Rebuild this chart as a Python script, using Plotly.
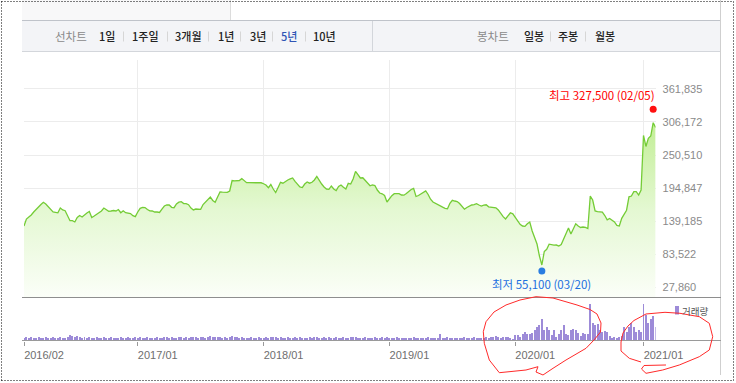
import plotly.graph_objects as go
import pandas as pd

W, H = 736, 383

# ---------------- data ----------------
week_end = pd.date_range("2016-02-12", periods=262, freq="7D")

close = [
    131000, 142800, 146200, 149500, 154600, 159600, 163000, 167200, 170900, 168100,
    163000, 158000, 154600, 154100, 153300, 161300, 158000, 156800, 147900, 140000,
    140000, 137800, 145300, 148700, 146200, 150400, 152900, 155400, 145300, 147900,
    151200, 152900, 156300, 161300, 158800, 155800, 156300, 157100, 156300, 158800,
    153400, 156600, 153400, 152900, 152100, 148400, 146900, 154600, 160800, 162500,
    162000, 158800, 156600, 156300, 154600, 154600, 153800, 159600, 164700, 166400,
    166400, 162500, 161800, 168100, 171100, 171900, 168900, 168600, 166900, 161300,
    158000, 159600, 159300, 159100, 167200, 171400, 174800, 179900, 174000, 170900,
    179900, 188300, 187900, 187800, 187600, 190000, 207600, 207100, 206800, 207600,
    211000, 206800, 203900, 203900, 203900, 204100, 204600, 204900, 203800, 202200,
    200100, 195500, 200900, 193300, 187400, 195800, 204600, 203100, 206300, 208500,
    210200, 211900, 206000, 200600, 196700, 195800, 201700, 205100, 203100, 204600,
    208500, 214400, 206800, 201700, 196700, 193300, 192800, 198400, 193300, 190800,
    197500, 200100, 196200, 193300, 202900, 201700, 210200, 223000, 217700, 211900,
    212200, 207600, 203400, 198700, 200100, 199200, 191600, 186600, 185200, 182400,
    171400, 177300, 182000, 185400, 185700, 185400, 183200, 182900, 185700, 189600,
    192500, 194500, 180700, 182400, 184900, 186600, 190000, 184100, 176100, 171400,
    168900, 166700, 164700, 162700, 160800, 160000, 169200, 174300, 173100, 172300,
    168900, 163000, 159300, 162200, 164700, 166400, 167200, 168700, 166400, 164700,
    166000, 166700, 163400, 162500, 162000, 161700, 158000, 152100, 146700, 142800,
    148700, 153300, 151600, 145300, 139100, 133900, 131000, 130500, 134900, 137800,
    122600, 110800, 100700, 80500, 65400, 88100, 91800, 100400, 99000, 98700,
    99000, 97300, 99900, 109100, 119200, 127700, 117600, 126000, 134700, 131000,
    128500, 129300, 128800, 126800, 181500, 174800, 156300, 155400, 154900, 154300,
    148700, 141500, 143700, 141100, 137800, 131900, 131000, 144000, 152100, 157600,
    180200, 181500, 188800, 188800, 183200, 191600, 283400, 264900, 278700, 282500,
    304900, 296800,
]

# weekly volume, thousand shares
volume = [
    1000, 1200, 800, 1200, 1000, 800, 1200, 1000, 800, 1200,
    800, 1000, 1200, 800, 1000, 1200, 1000, 800, 1200, 2200,
    1600, 1400, 1600, 1200, 1000, 1200, 800, 1200, 1000, 800,
    1200, 1000, 800, 1400, 1000, 800, 1200, 1000, 800, 1000,
    1200, 800, 1000, 1200, 800, 1000, 1200, 1000, 1200, 800,
    1000, 1200, 800, 800, 1000, 1200, 800, 1000, 1200, 1400,
    1000, 1200, 800, 1000, 1200, 1400, 1000, 1200, 800, 1200,
    1400, 1200, 1000, 1200, 1400, 1000, 1200, 1600, 1200, 1400,
    1200, 1400, 1000, 1200, 1000, 1200, 1600, 1400, 1200, 1000,
    1200, 1000, 800, 1000, 1200, 800, 1000, 1200, 800, 1000,
    1200, 1000, 1200, 1400, 1200, 1000, 1200, 800, 1000, 1200,
    1000, 800, 1200, 1000, 1200, 800, 1000, 800, 1200, 1000,
    1200, 1400, 1000, 800, 1200, 1000, 1200, 800, 1000, 1200,
    1000, 800, 1200, 1000, 800, 1200, 1400, 1200, 1000, 800,
    1000, 1200, 800, 1000, 800, 1200, 1000, 800, 1200, 1000,
    1200, 1000, 800, 1000, 1200, 800, 1000, 800, 1000, 800,
    1000, 1200, 800, 1000, 800, 1000, 800, 1200, 1000, 800,
    1000, 800, 2400, 1000, 800, 1200, 1000, 800, 1000, 800,
    1000, 800, 1200, 1000, 800, 1000, 1200, 800, 1000, 800,
    1000, 1200, 1000, 1400, 1200, 1600, 1400, 1080, 1320, 1320,
    1320, 1080, 680, 2000, 2000, 1320, 2680, 3320, 2680, 2680,
    2920, 4000, 5320, 6000, 8680, 4000, 5320, 4000, 2000, 4000,
    1320, 2680, 4000, 6000, 2680, 2000, 4000, 4680, 4000, 2920,
    1600, 2920, 2680, 2400, 14400, 6800, 6000, 6400, 4280, 3320,
    3600, 3200, 1600, 1080, 1320, 1080, 1320, 1600, 5320, 3320,
    5320, 6920, 5320, 3320, 4000, 3320, 14400, 10000, 6800, 8400,
    9600, 5200,
]

tick_dates = ["2016-02-12", "2017-01-06", "2018-01-05", "2019-01-04", "2020-01-03", "2021-01-08"]
tick_labels = ["2016/02", "2017/01", "2018/01", "2019/01", "2020/01", "2021/01"]
price_ticks = [27860, 83522, 139185, 194847, 250510, 306172, 361835]

high_date, high_val, high_label = "2021-02-05", 327500, "최고 327,500 (02/05)"
low_date, low_val, low_label = "2020-03-20", 55100, "최저 55,100 (03/20)"

period_items = ["1일", "1주일", "3개월", "1년", "3년", "5년", "10년"]
candle_items = ["일봉", "주봉", "월봉"]
volume_label = "거래량"

# ---------------- geometry helpers (pixels -> paper) ----------------
def px(x):
    return x / W

def py(y):
    return 1 - y / H

# price axis scale: 27,860 at y=287.3, 33.07 px per tick step
PER_PX = (price_ticks[1] - price_ticks[0]) / 33.07
Y_BOT_PX, Y_TOP_PX = 297, 60
y_range = [price_ticks[0] - (Y_BOT_PX - 287.3) * PER_PX,
           price_ticks[0] + (287.3 - Y_TOP_PX) * PER_PX]

X_L, X_R = 24, 655.6
LINE_GREEN = "#74cc36"
BAR_PURPLE = "#9d8bd8"
KFONT = "Noto Sans CJK KR"
NFONT = "Liberation Sans, Arial"

fig = go.Figure()

fig.add_trace(go.Scatter(
    x=week_end, y=close, mode="lines",
    line=dict(color=LINE_GREEN, width=1.3),
    fill="tozeroy",
    fillgradient=dict(type="vertical",
                      colorscale=[[0, "#fbfef8"], [0.5, "#e4f8d2"], [1, "#c2ee96"]],
                      start=y_range[0], stop=max(close)),
    xaxis="x", yaxis="y", hoverinfo="skip", showlegend=False,
))

fig.add_trace(go.Scatter(
    x=[high_date], y=[high_val], mode="markers",
    marker=dict(color="#ff1010", size=7), xaxis="x", yaxis="y",
    hoverinfo="skip", showlegend=False, cliponaxis=False,
))
fig.add_trace(go.Scatter(
    x=[low_date], y=[low_val], mode="markers",
    marker=dict(color="#2a7de1", size=7), xaxis="x", yaxis="y",
    hoverinfo="skip", showlegend=False, cliponaxis=False,
))

fig.add_trace(go.Bar(
    x=week_end, y=volume, width=2.9 * 86400000,
    marker=dict(color=BAR_PURPLE, line=dict(width=0)),
    xaxis="x2", yaxis="y2", hoverinfo="skip", showlegend=False,
))

shapes = []

def hline(y, x0, x1, color, width=1, dash="solid"):
    shapes.append(dict(type="line", xref="paper", yref="paper",
                       x0=px(x0), x1=px(x1), y0=py(y), y1=py(y),
                       line=dict(color=color, width=width, dash=dash), layer="above"))

def vline(x, y0, y1, color, width=1, dash="solid"):
    shapes.append(dict(type="line", xref="paper", yref="paper",
                       x0=px(x), x1=px(x), y0=py(y0), y1=py(y1),
                       line=dict(color=color, width=width, dash=dash), layer="above"))

def rect(x0, y0, x1, y1, fill, layer="below"):
    shapes.append(dict(type="rect", xref="paper", yref="paper",
                       x0=px(x0), x1=px(x1), y0=py(y0), y1=py(y1),
                       fillcolor=fill, line=dict(width=0), layer=layer))

def scribble(points):
    d = "M " + " L ".join(f"{px(x):.5f},{py(y):.5f}" for x, y in points)
    shapes.append(dict(type="path", xref="paper", yref="paper", path=d,
                       line=dict(color="#ff2a2a", width=1), layer="above"))

# top tab + toolbar
rect(22, 0, 230, 20.5, "#f8f8f9")
vline(230.5, 0, 20.5, "#dcdcdc")
rect(22, 20.5, 721, 51.5, "#f3f4f7")
hline(20.5, 22, 721, "#bfc3ca")
hline(51.5, 22, 721, "#d3d6db")
vline(372.5, 21, 51, "#d3d6db")
for sx in [123.5, 167.5, 208.5, 240.5, 272.5, 305.5, 550.5, 585.5]:
    vline(sx, 31.5, 41.5, "#d6d6d6")

# panel lines
vline(720.5, 0, 375, "#cfcfcf")
hline(297.5, 22, 721, "#8e8e8e")
hline(340.5, 22, 721, "#9a9a9a")

# volume legend swatch
rect(675, 306, 679, 314.5, BAR_PURPLE, layer="above")

# outer dotted frame
hline(1.5, 1.5, 733.5, "#000", dash="1px,2px")
hline(380.5, 1.5, 733.5, "#000", dash="1px,2px")
vline(1.5, 1.5, 380.5, "#000", dash="1px,2px")
vline(733.5, 1.5, 380.5, "#000", dash="1px,2px")

# hand-drawn red marks
scribble([(483.3, 331.7), (486, 321.7), (494, 312), (506, 305), (520, 300), (536, 296.7),
          (553, 298), (577, 305), (590, 309.5), (597, 314), (601, 323), (600.5, 332),
          (594, 340), (586, 348.3), (566, 360), (553, 368.3), (543, 375), (536, 372),
          (538, 366.7), (526, 370), (499.3, 372.7), (489.3, 360), (484.3, 343.3), (483.3, 331.7)])
scribble([(641, 362), (629.3, 358.3), (621, 351), (621, 342), (623, 333), (628, 326),
          (634, 320.5), (646, 314), (665, 312.3), (680, 313.3), (699.3, 316.7), (709.3, 323.3),
          (712.7, 336.7), (709.3, 350), (699.3, 356.7), (679.3, 365), (662.7, 370), (646, 373.3),
          (641.5, 369), (644, 365.5), (666, 365)])

annotations = []

def label(text, x, y, color, size=11.5, family=KFONT, anchor="center", weight="normal"):
    annotations.append(dict(text=text, x=px(x), y=py(y), xref="paper", yref="paper",
                            xanchor=anchor, yanchor="middle", showarrow=False,
                            font=dict(family=family, size=size, color=color, weight=weight)))

label("선차트", 70.9, 36.5, "#8a8a8a")
period_x = [107.3, 145.5, 188.2, 225.6, 257.5, 288.9, 324.1]
for t, x in zip(period_items, period_x):
    label(t, x, 36.5, "#2f55b5" if t == "5년" else "#222222", size=11, weight=500)
label("봉차트", 493.3, 36.5, "#8a8a8a")
for t, x in zip(candle_items, [534, 568.2, 605.1]):
    label(t, x, 36.5, "#222222", size=11, weight=500)
label(volume_label, 679.5, 310.5, "#555555", size=9.5, anchor="left")

annotations.append(dict(text=high_label, x=high_date, y=high_val, xref="x", yref="y",
                        xanchor="right", yanchor="middle", xshift=4, yshift=14,
                        showarrow=False, font=dict(family=KFONT, size=11.5, color="#ff0000")))
annotations.append(dict(text=low_label, x=low_date, y=low_val, xref="x", yref="y",
                        xanchor="center", yanchor="middle", yshift=-13,
                        showarrow=False, font=dict(family=KFONT, size=11.5, color="#1b6fe0")))

x_range = [week_end[0], week_end[-1]]

fig.update_layout(
    width=W, height=H, autosize=False,
    margin=dict(l=0, r=0, t=0, b=0, pad=0, autoexpand=False),
    paper_bgcolor="white", plot_bgcolor="rgba(0,0,0,0)",
    showlegend=False, bargap=0,
    shapes=shapes, annotations=annotations,
    xaxis=dict(domain=[px(X_L), px(X_R)], range=x_range, anchor="y", automargin=False,
               tickvals=tick_dates, showticklabels=False, ticks="",
               showgrid=True, gridcolor="#ececec", gridwidth=1,
               zeroline=False, showline=False, fixedrange=True),
    yaxis=dict(domain=[py(Y_BOT_PX), py(Y_TOP_PX)], range=y_range, anchor="x", automargin=False,
               side="right", tickvals=price_ticks,
               ticktext=[f"{v:,}" for v in price_ticks],
               tickfont=dict(family=NFONT, size=11, color="#8a8a8a"),
               ticks="", ticklabelstandoff=6,
               showgrid=True, gridcolor="#ececec", gridwidth=1,
               zeroline=False, showline=False, fixedrange=True),
    xaxis2=dict(domain=[px(X_L), px(X_R)], range=x_range, anchor="y2", automargin=False,
                tickvals=tick_dates, ticktext=tick_labels,
                ticks="outside", ticklen=4, tickcolor="#9a9a9a", tickwidth=1,
                ticklabelshift=20,
                tickfont=dict(family=NFONT, size=11, color="#6e6e6e"),
                showgrid=False, zeroline=False, showline=False, fixedrange=True),
    yaxis2=dict(domain=[py(340.5), py(298)], range=[0, max(volume) * 42 / 36],
                anchor="x2", visible=False, automargin=False, fixedrange=True),
)

fig.write_html("out.html", config={"displayModeBar": False},
               post_script="document.body.style.margin='0';document.body.style.overflow='hidden';")
